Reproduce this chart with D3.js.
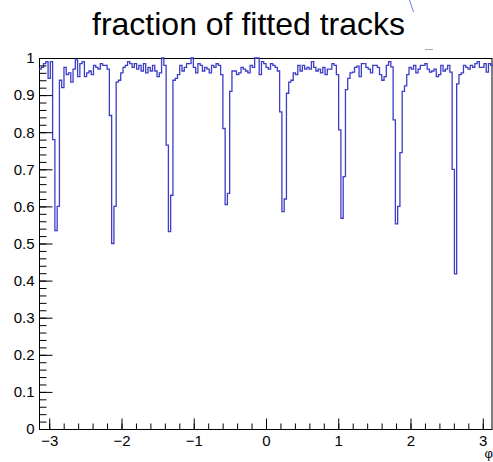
<!DOCTYPE html>
<html lang="en">
<head>
    <meta charset="UTF-8">
    <title>fraction of fitted tracks</title>
    <style>
        body { margin: 0; background: #fff; }
        svg text { font-family: "Liberation Sans", Arial, sans-serif; fill: #000; }
        .axis path { display: none; }
        .axis line { stroke: #000; stroke-width: 1; }
    </style>
</head>
<body>
    <svg id="chart" width="493" height="462"></svg>
    <script src="https://d3js.org/d3.v7.min.js"></script>
    <script>
        // histogram range in phi and bin contents (200 bins over [-pi, pi])
        var phiMin = -Math.PI, phiMax = Math.PI;
        var fraction = [
            0.97, 0.975, 0.985, 0.99, 0.945, 0.99, 0.78, 0.535, 0.6, 0.94,
            0.92, 0.975, 0.955, 0.96, 0.935, 0.97, 0.995, 0.95, 0.985, 0.99,
            0.95, 0.96, 0.965, 0.955, 0.98, 0.975, 0.97, 0.985, 0.98, 0.98,
            0.97, 0.845, 0.50, 0.6, 0.935, 0.94, 0.96, 0.975, 0.98, 0.99,
            0.985, 0.975, 0.985, 0.97, 0.98, 0.965, 0.985, 0.96, 0.975, 0.965,
            0.98, 0.965, 0.95, 0.96, 1.0, 0.98, 0.765, 0.532, 0.63, 0.94,
            0.945, 0.955, 0.98, 0.965, 0.975, 0.985, 0.985, 1.0, 0.975, 0.96,
            0.985, 0.98, 0.965, 0.975, 0.97, 0.96, 0.98, 0.975, 0.985, 0.98,
            0.955, 0.81, 0.605, 0.635, 0.91, 0.965, 0.965, 0.955, 0.96, 0.975,
            0.97, 0.965, 0.96, 0.98, 0.975, 1.0, 1.0, 0.955, 0.99, 0.985,
            0.975, 0.97, 0.985, 0.98, 0.975, 0.965, 0.855, 0.586, 0.62, 0.905,
            0.935, 0.94, 0.96, 0.955, 0.98, 0.965, 0.98, 0.97, 0.975, 0.97,
            0.99, 0.975, 0.965, 0.97, 0.96, 0.975, 0.955, 0.97, 0.97, 0.985,
            0.98, 0.955, 0.806, 0.568, 0.68, 0.915, 0.945, 0.96, 0.962, 0.975,
            0.978, 0.95, 0.985, 0.985, 0.975, 0.97, 0.96, 0.98, 0.98, 0.975,
            0.955, 0.94, 0.95, 0.98, 0.99, 0.976, 0.833, 0.553, 0.6, 0.745,
            0.91, 0.925, 0.955, 0.975, 0.97, 0.98, 0.96, 0.97, 0.98, 0.98,
            0.985, 0.97, 0.962, 0.965, 0.97, 0.95, 0.955, 0.98, 0.965, 0.97,
            0.98, 0.962, 0.7, 0.418, 0.93, 0.955, 0.96, 0.98, 0.975, 0.97,
            0.98, 0.975, 0.985, 0.99, 0.975, 0.975, 0.985, 0.962, 0.985, 0.98
        ];
        var xTicks = [-3, -2, -1, 0, 1, 2, 3];
        var yTicks = [0, 0.1, 0.2, 0.3, 0.4, 0.5, 0.6, 0.7, 0.8, 0.9, 1];

        var frame = { left: 39, right: 493, top: 58, bottom: 429 };
        var svg = d3.select("#chart");

        var x = d3.scaleLinear().domain([phiMin, phiMax]).range([frame.left, frame.right]);
        var y = d3.scaleLinear().domain([0, 1]).range([frame.bottom, frame.top]);

        var nBins = fraction.length;
        var binW = (phiMax - phiMin) / nBins;

        // frame box
        svg.append("rect")
           .attr("x", frame.left + 0.5)
           .attr("y", frame.top + 0.5)
           .attr("width", frame.right - frame.left - 1.5)
           .attr("height", frame.bottom - frame.top)
           .attr("fill", "none")
           .attr("stroke", "#000")
           .attr("stroke-width", 1);

        // histogram drawn as steps
        var pts = fraction.map(function(v, i) { return [phiMin + i * binW, v]; });
        pts.push([phiMax, fraction[nBins - 1]]);
        var line = d3.line()
                     .x(function(d) { return x(d[0]); })
                     .y(function(d) { return y(d[1]); })
                     .curve(d3.curveStepAfter);
        svg.append("path")
           .datum(pts)
           .attr("d", line)
           .attr("fill", "none")
           .attr("stroke", "#3d3dc6")
           .attr("stroke-width", 1.3);

        // minor ticks on Y
        var yMinor = d3.range(0, 51).map(function(k) { return k * 0.02; });
        svg.append("g")
           .attr("class", "axis")
           .attr("transform", "translate(" + (frame.left + 0.5) + ",0)")
           .call(d3.axisLeft(y).tickValues(yMinor).tickSize(-7).tickFormat(""));

        // major ticks + labels on Y
        var yAxis = svg.append("g")
           .attr("class", "axis")
           .attr("transform", "translate(" + (frame.left + 0.5) + ",0)")
           .call(d3.axisLeft(y).tickValues(yTicks).tickSize(-13).tickPadding(5)
                 .tickFormat(function(d) { return d === 0 || d === 1 ? String(d) : d.toFixed(1); }));
        yAxis.selectAll("text").style("font-size", "15px");

        // minor ticks on X
        var xMinor = d3.range(-15, 16).map(function(k) { return k * 0.2; });
        svg.append("g")
           .attr("class", "axis")
           .attr("transform", "translate(0," + (frame.bottom + 0.5) + ")")
           .call(d3.axisBottom(x).tickValues(xMinor).tickSize(-6).tickFormat(""));

        // major ticks + labels on X
        var xAxis = svg.append("g")
           .attr("class", "axis")
           .attr("transform", "translate(0," + (frame.bottom + 0.5) + ")")
           .call(d3.axisBottom(x).tickValues(xTicks).tickSize(-11).tickPadding(6)
                 .tickFormat(function(d) { return d < 0 ? "\u2212" + (-d) : String(d); }));
        xAxis.selectAll("text").style("font-size", "15px");

        // axis title
        svg.append("text")
           .attr("x", 493)
           .attr("y", 458)
           .attr("text-anchor", "end")
           .style("font-size", "13px")
           .text("\u03c6");

        // chart title
        svg.append("text")
           .attr("x", 248.5)
           .attr("y", 35)
           .attr("text-anchor", "middle")
           .style("font-size", "32px")
           .text("fraction of fitted tracks");

        // leftover bits of the stats box seen in the picture
        svg.append("line")
           .attr("x1", 409.5).attr("y1", 0).attr("x2", 413.5).attr("y2", 12)
           .attr("stroke", "#3d5fc6").attr("stroke-width", 0.8);
        svg.append("line")
           .attr("x1", 425).attr("y1", 49.5).attr("x2", 433).attr("y2", 49.5)
           .attr("stroke", "#aaa").attr("stroke-width", 1);
    </script>
</body>
</html>
